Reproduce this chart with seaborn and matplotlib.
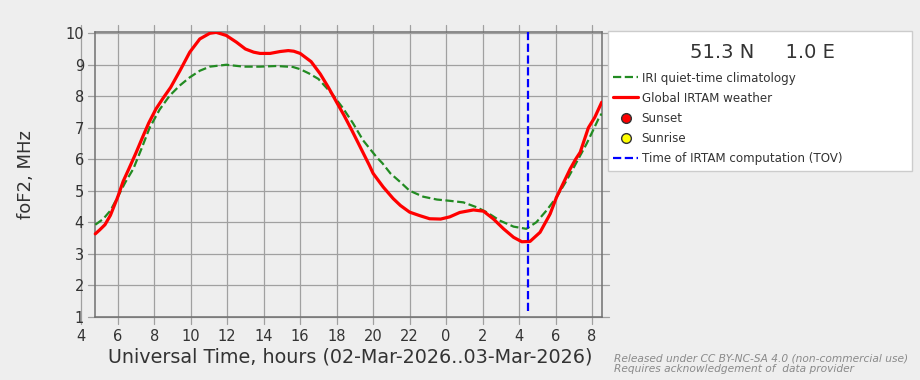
import matplotlib
matplotlib.use("Agg")
import matplotlib.pyplot as plt
from matplotlib.lines import Line2D
from matplotlib.patches import Rectangle
import seaborn as sns
import pandas as pd

# ---- data (hours since 00 UT on 02-Mar-2026) ----
irtam_hours = [4.77, 5.0, 5.3, 5.6, 6.0, 6.3, 6.6, 7.0, 7.4, 7.7, 8.1, 8.5, 8.9, 9.4,
               9.95, 10.5, 11.05, 11.4, 11.95, 12.5, 13.0, 13.45, 13.8, 14.35, 14.9,
               15.35, 15.65, 16.0, 16.6, 17.1, 17.55, 18.0, 18.4, 18.85, 19.3, 19.8,
               20.0, 20.55, 21.1, 21.5, 22.0, 22.55, 23.1, 23.7, 24.2, 24.75, 25.5,
               26.05, 26.6, 27.15, 27.7, 28.15, 28.6, 29.15, 29.7, 30.05, 30.45, 30.8,
               31.1, 31.35, 31.8, 32.15, 32.53]
irtam_fof2 = [3.63, 3.75, 3.92, 4.22, 4.80, 5.30, 5.68, 6.20, 6.75, 7.15, 7.60, 7.95,
              8.28, 8.80, 9.40, 9.82, 10.00, 10.03, 9.93, 9.72, 9.50, 9.40, 9.36, 9.36,
              9.42, 9.45, 9.43, 9.36, 9.10, 8.71, 8.28, 7.81, 7.40, 6.90, 6.38, 5.80,
              5.55, 5.12, 4.75, 4.53, 4.32, 4.21, 4.11, 4.10, 4.17, 4.31, 4.39, 4.35,
              4.10, 3.79, 3.52, 3.38, 3.39, 3.68, 4.26, 4.79, 5.27, 5.69, 6.00, 6.22,
              7.00, 7.33, 7.81]

iri_hours = [4.77, 5.2, 5.6, 6.0, 6.4, 6.86, 7.3, 7.75, 8.3, 8.85, 9.4, 9.95, 10.5,
             11.05, 11.95, 12.9, 13.8, 14.7, 15.6, 16.0, 16.5, 17.0, 17.3, 17.8, 18.35,
             18.9, 19.45, 20.2, 20.5, 20.95, 21.5, 22.0, 22.75, 23.5, 24.2, 24.95, 25.7,
             26.25, 26.95, 27.7, 28.4, 28.95, 29.5, 30.05, 30.6, 31.0, 31.7, 32.05,
             32.35, 32.53]
iri_fof2 = [3.92, 4.10, 4.37, 4.80, 5.25, 5.70, 6.33, 7.00, 7.58, 8.02, 8.34, 8.60,
            8.81, 8.94, 9.00, 8.94, 8.94, 8.96, 8.93, 8.86, 8.72, 8.55, 8.36, 8.04,
            7.62, 7.14, 6.60, 6.06, 5.88, 5.55, 5.27, 5.00, 4.81, 4.72, 4.68, 4.63,
            4.47, 4.31, 4.05, 3.86, 3.79, 4.00, 4.37, 4.79, 5.32, 5.74, 6.49, 6.91,
            7.28, 7.45]

tov_hour = 28.5
x_ticks = list(range(4, 33, 2))
x_tick_labels = [str(t % 24) for t in x_ticks]
y_ticks = list(range(1, 11))
legend_title = "51.3 N     1.0 E"
legend_labels = ["IRI quiet-time climatology", "Global IRTAM weather", "Sunset",
                 "Sunrise", "Time of IRTAM computation (TOV)"]

BG = "#eeeeee"
TXT = "#333333"
GRID = "#a0a0a0"
SPINE = "#707070"
W, H = 920, 380
X_AXIS_START = 4.0        # axis range starts at the first tick
X_FRAME = (4.755, 32.53)  # framed (data) region
Y_RANGE = (1, 10.05)

sns.set_theme(style="white")
plt.rcParams["font.family"] = ["DejaVu Sans"]

fig = plt.figure(figsize=(9.2001, 3.8001), dpi=100, facecolor=BG)
px_per_h = (601.7 - 95) / (X_FRAME[1] - X_FRAME[0])
left_px = 95 - (X_FRAME[0] - X_AXIS_START) * px_per_h
ax = fig.add_axes([left_px / W, 1 - 316.7 / H, (601.7 - left_px) / W, (316.7 - 31.7) / H])
ax.set_facecolor("none")

df_iri = pd.DataFrame({"hour": iri_hours, "fof2": iri_fof2})
df_irtam = pd.DataFrame({"hour": irtam_hours, "fof2": irtam_fof2})

sns.lineplot(data=df_iri, x="hour", y="fof2", ax=ax, color="#228b22",
             lw=1.6, linestyle="--", zorder=3)
sns.lineplot(data=df_irtam, x="hour", y="fof2", ax=ax, color="#ff0000",
             lw=2.3, zorder=4)
ax.axvline(tov_hour, ymin=0.02, ymax=1.0, color="#0000ff", lw=1.6,
           linestyle="--", zorder=5)

ax.set_xlim(X_AXIS_START, X_FRAME[1])
ax.set_ylim(*Y_RANGE)
ax.autoscale(False)

# frame drawn only around the data region
ax.spines["left"].set_position(("data", X_FRAME[0]))
ax.spines["top"].set_bounds(*X_FRAME)
ax.spines["bottom"].set_bounds(*X_FRAME)
for sp in ax.spines.values():
    sp.set_visible(True)
    sp.set_color(SPINE)
    sp.set_linewidth(1.1)
    sp.set_zorder(2.6)

# grid lines that extend slightly beyond the frame
ext_px = 7
xtrans = ax.get_xaxis_transform()
ext_y = ext_px / (316.7 - 31.7)
for t in x_ticks:
    ax.add_line(Line2D([t, t], [-ext_y, 1 + ext_y], transform=xtrans, color=GRID,
                       lw=0.9, clip_on=False, zorder=0.5))
ext_h = ext_px / px_per_h
for t in y_ticks:
    ax.add_line(Line2D([X_FRAME[0] - ext_h, X_FRAME[1] + ext_h], [t, t], color=GRID,
                       lw=0.9, clip_on=False, zorder=0.5))

ax.set_xticks(x_ticks)
ax.set_xticklabels(x_tick_labels)
ax.set_yticks(y_ticks)
ax.tick_params(axis="both", length=0, labelsize=10.5, labelcolor=TXT)
ax.tick_params(axis="x", pad=9)
ax.tick_params(axis="y", pad=8)

ax.set_xlabel("Universal Time, hours (02-Mar-2026..03-Mar-2026)", fontsize=13.75,
              color=TXT)
ax.xaxis.set_label_coords((350 - left_px) / (601.7 - left_px), -0.107)
ax.xaxis.label.set_va("top")
ax.set_ylabel("foF2, MHz", fontsize=13, color=TXT, labelpad=22)

# legend box, title and entries
fig.add_artist(Rectangle((608 / W, 1 - 171 / H), (912 - 608) / W, (171 - 31) / H,
                         transform=fig.transFigure, facecolor="white",
                         edgecolor="#cccccc", lw=1.0, zorder=4))
fig.text(762 / W, 1 - 52 / H, legend_title, fontsize=14, color=TXT,
         ha="center", va="center", zorder=6)

handles = [
    Line2D([], [], color="#228b22", lw=1.6, linestyle="--"),
    Line2D([], [], color="#ff0000", lw=2.3),
    Line2D([], [], color="none", marker="o", markerfacecolor="#ff0000",
           markeredgecolor="#333333", markersize=7),
    Line2D([], [], color="none", marker="o", markerfacecolor="#ffff00",
           markeredgecolor="#333333", markersize=7),
    Line2D([], [], color="#0000ff", lw=1.6, linestyle="--"),
]
leg = fig.legend(handles, legend_labels, loc="upper left",
                 bbox_to_anchor=(613 / W, 1 - 71.5 / H),
                 bbox_transform=fig.transFigure, fontsize=8.6,
                 frameon=False, borderaxespad=0, borderpad=0, handlelength=2.1,
                 handletextpad=0.3, labelspacing=0.6)
leg.set_zorder(6)
for t in leg.get_texts():
    t.set_color(TXT)

fig.text(614 / W, 1 - 364 / H,
         "Released under CC BY-NC-SA 4.0 (non-commercial use)\n"
         "Requires acknowledgement of  data provider",
         fontsize=7.7, style="italic", color="#8a8a8a", va="center", ha="left",
         linespacing=1.1)

fig.savefig("out.png", dpi=100, facecolor=BG)
